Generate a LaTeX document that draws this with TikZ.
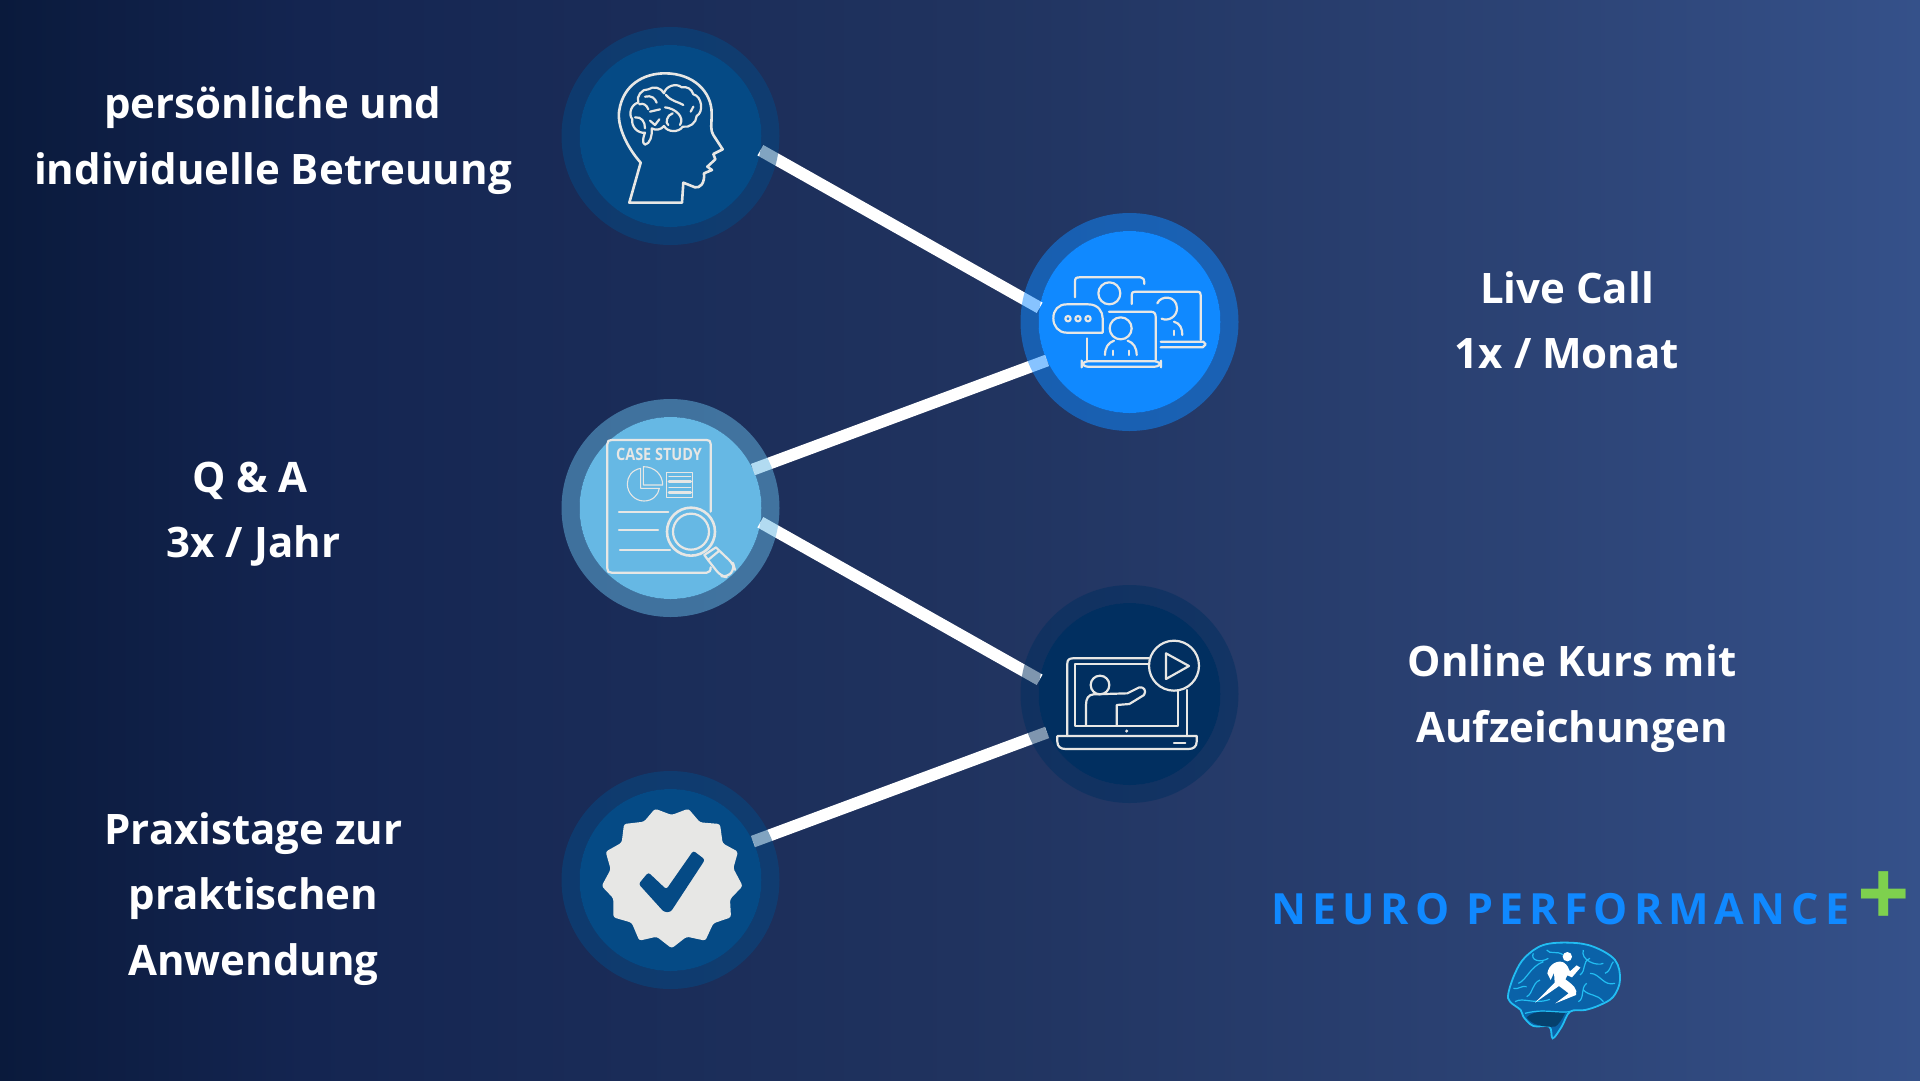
\documentclass[tikz,border=0pt]{standalone}
\usepackage{fontspec}
\setmainfont{Open Sans}
\newfontfamily\logofont[LetterSpace=14]{Open Sans}
\definecolor{bgA}{HTML}{0A1A3C}
\definecolor{bgB}{HTML}{142551}
\definecolor{bgC}{HTML}{20335F}
\definecolor{bgD}{HTML}{2C4375}
\definecolor{bgE}{HTML}{35518A}
\definecolor{brainblue}{HTML}{054A85}
\definecolor{liveblue}{HTML}{1089FF}
\definecolor{caseblue}{HTML}{66B8E4}
\definecolor{videoblue}{HTML}{012F60}
\definecolor{iconline}{HTML}{E7E7E5}
\definecolor{plusgreen}{HTML}{7ED14E}
\definecolor{veincyan}{HTML}{22BDF2}
\definecolor{lobeblue}{HTML}{0A62A8}
\pgfdeclarehorizontalshading{bgfade}{100bp}{color(0bp)=(bgA); color(25bp)=(bgA); color(33bp)=(bgB); color(50bp)=(bgC); color(65bp)=(bgD); color(75bp)=(bgE); color(100bp)=(bgE)}
\tikzset{
  hub/.style={circle,inner sep=0pt,outer sep=0pt,minimum size=182,fill=#1},
  link/.style={draw=white,line width=12},
  lbl/.style={align=center,text=white,font=\fontsize{42}{65.5}\selectfont\bfseries},
  icon/.style={draw=iconline,line width=2.2,line cap=round,line join=round},
  thinicon/.style={draw=iconline,line width=1.1,line cap=round,line join=round},
}
\begin{document}
\begin{tikzpicture}[x=1pt,y=-1pt]
\useasboundingbox (0,0) rectangle (1920,1080);
\shade[shading=bgfade] (0,0) rectangle (1920,1080);
\node[hub=brainblue] (brainhub) at (670.5,136) {};
\node[hub=liveblue] (livehub) at (1129.5,322) {};
\node[hub=caseblue] (casehub) at (670.5,508) {};
\node[hub=videoblue] (videohub) at (1129.5,694) {};
\node[hub=brainblue] (badgehub) at (670.5,880) {};
\draw[link] (brainhub.-9) -- (livehub.171);
\draw[link] (casehub.25) -- (livehub.205);
\draw[link] (casehub.-9) -- (videohub.171);
\draw[link] (badgehub.25) -- (videohub.205);
\foreach \hubname/\hubcolor in {brainhub/brainblue,livehub/liveblue,casehub/caseblue,videohub/videoblue,badgehub/brainblue}
  \draw[\hubcolor,opacity=.5,line width=18] (\hubname) circle (100);
\node[lbl] (brainlabel) at (273,140.5) {persönliche und\\individuelle Betreuung};
\node[lbl] (caselabel) at (253.5,514) {Q \& A\hspace*{7pt}\\3x / Jahr};
\node[lbl] (badgelabel) at (253.5,899) {Praxistage zur\\praktischen\\Anwendung};
\node[lbl] (livelabel) at (1567,320) {Live Call\\1x / Monat};
\node[lbl] (videolabel) at (1572,698.5) {Online Kurs mit\\Aufzeichungen};
\node[text=liveblue,anchor=base west,inner sep=0pt,font=\logofont\fontsize{43}{43}\selectfont\bfseries] (logotext) at (1271,924) {NEURO PERFORMANCE};
\node[text=plusgreen,inner sep=0pt,font=\fontsize{92}{92}\selectfont\bfseries] (logoplus) at (1884,899) {+};
% head with brain
\begin{scope}[shift={(600,60)},scale=1/3]
\draw[icon,line width=2.6] (88,428) -- (122,308) .. controls (75,255) and (50,190) .. (58,150) .. controls (70,75) and (130,40) .. (195,40) .. controls (280,40) and (335,95) .. (335,160) .. controls (335,200) and (330,205) .. (340,225) -- (368,268) -- (340,282) -- (346,298) -- (322,320) -- (336,330) -- (312,340) .. controls (315,370) and (300,385) .. (285,382) -- (250,368) -- (246,428) -- cycle;
\draw[icon] (155,205) .. controls (158,225) and (150,252) .. (135,254) .. controls (125,250) and (130,230) .. (135,218) to[bend left=55] (97,178) to[bend left=60] (115,128) to[bend left=60] (145,88) to[bend left=50] (192,100) to[bend left=60] (245,82) to[bend left=45] (280,103) to[bend left=70] (290,168) to[bend left=50] (248,200) to[bend left=60] (192,198) to[bend left=40] cycle;
\draw[icon] (135,110) .. controls (155,105) and (165,115) .. (170,128);
\draw[icon] (118,133) .. controls (130,128) and (140,135) .. (145,148);
\draw[icon] (150,155) -- (180,148);
\draw[icon] (105,172) .. controls (125,170) and (135,185) .. (135,205);
\draw[icon] (150,182) -- (165,195) -- (178,178);
\draw[icon] (198,105) .. controls (215,125) and (235,125) .. (250,135);
\draw[icon] (195,142) .. controls (225,145) and (255,170) .. (240,195);
\draw[icon] (218,160) .. controls (200,165) and (195,190) .. (205,195);
\draw[icon] (280,140) .. controls (275,150) and (275,150) .. (272,155);
\end{scope}
% three people on screens
\begin{scope}[shift={(1030,260)},scale=1/3]
\draw[icon] (135,112) -- (135,65) .. controls (135,55) and (138,52) .. (148,52) -- (332,52) .. controls (340,52) and (343,58) .. (343,72);
\draw[icon] (238,100) circle (33);
\draw[icon] (305,132) -- (305,105) .. controls (305,98) and (308,95) .. (315,95) -- (502,95) .. controls (510,95) and (512,98) .. (512,105) -- (512,240);
\draw[icon] (382,130) .. controls (392,105) and (440,105) .. (441,145) .. controls (441,170) and (415,185) .. (395,176);
\draw[icon] (432,185) .. controls (450,190) and (457,205) .. (457,225);
\draw[icon] (432,212) -- (432,225);
\draw[icon] (392,245) -- (520,245) -- (527,253) -- (518,262) -- (392,262);
\draw[icon] (218,218) -- (110,218) .. controls (85,218) and (70,198) .. (70,175) .. controls (70,150) and (85,133) .. (110,133) -- (175,133) .. controls (205,133) and (218,155) .. (218,175) -- cycle;
\draw[icon] (114,176) circle (8);
\draw[icon] (144,176) circle (8);
\draw[icon] (174,176) circle (8);
\draw[icon] (237,155) -- (362,155) .. controls (372,155) and (377,160) .. (377,170) -- (377,300);
\draw[icon] (170,235) -- (170,300);
\draw[icon] (272,205) circle (33);
\draw[icon] (225,285) .. controls (225,262) and (235,248) .. (252,242);
\draw[icon] (320,285) .. controls (320,262) and (310,248) .. (293,242);
\draw[icon] (250,272) -- (250,285);
\draw[icon] (297,272) -- (297,285);
\draw[icon,rounded corners=6] (155,304) -- (393,304) -- (393,320) -- (155,320) -- cycle;
\end{scope}
% case study sheet
\begin{scope}[shift={(590,420)},scale=1/3]
\draw[icon] (362,275) -- (362,72) .. controls (362,63) and (358,60) .. (350,60) -- (65,60) .. controls (56,60) and (52,63) .. (52,72) -- (52,446) .. controls (52,455) and (56,458) .. (65,458) -- (350,458) .. controls (358,458) and (362,452) .. (362,442);
\node[text=iconline,font=\fontsize{17}{17}\selectfont\bfseries,inner sep=0pt,xscale=.85] (casetitle) at (207,103) {CASE STUDY};
\draw[thinicon] (152,145) .. controls (125,150) and (112,170) .. (112,192) .. controls (112,220) and (135,243) .. (162,243) .. controls (188,243) and (205,225) .. (208,205) -- (152,205) -- cycle;
\draw[thinicon] (160,140) .. controls (195,140) and (218,165) .. (218,195) -- (160,195) -- cycle;
\draw[thinicon] (230,157) rectangle (308,232);
\draw[icon,line width=1.2] (237,170) -- (302,170);
\draw[icon,line width=2.6] (237,185) -- (302,185);
\draw[icon,line width=1.2] (237,202) -- (302,202);
\draw[icon,line width=2.6] (237,217) -- (302,217);
\draw[icon] (87,275) -- (235,275);
\draw[icon] (87,329) -- (204,329);
\draw[icon] (90,390) -- (240,390);
\draw[icon,line width=2.6] (303,335) circle (72);
\draw[icon] (303,335) circle (54);
\draw[icon] (343,405) -- (378,382) -- (388,392) -- (354,420) -- cycle;
\draw[icon,rounded corners=6] (354,420) -- (392,468) -- (412,472) -- (434,446) -- (430,432) -- (388,392);
\end{scope}
% lecture on laptop
\begin{scope}[shift={(1040,630)},scale=1/3]
\draw[icon] (82,318) -- (82,100) .. controls (82,90) and (88,85) .. (98,85) -- (328,85);
\draw[icon] (440,180) -- (440,318);
\draw[icon] (328,103) -- (105,103) -- (105,287) -- (415,287) -- (415,182);
\draw[icon] (402,107) circle (75);
\draw[icon] (378,70) -- (447,108) -- (378,147) -- cycle;
\draw[icon] (180,165) circle (28);
\draw[icon] (138,285) -- (138,225) .. controls (138,205) and (145,195) .. (160,193) -- (262,190) -- (298,172) .. controls (312,170) and (320,182) .. (312,195) -- (268,222) -- (230,225) -- (230,285);
\fill[iconline] (260,303) circle (5);
\draw[icon] (52,318) -- (470,318) -- (470,335) .. controls (470,350) and (460,357) .. (445,357) -- (77,357) .. controls (62,357) and (52,350) .. (52,335) -- cycle;
\draw[icon] (402,338) -- (436,338);
\end{scope}
% seal with tick
\begin{scope}[shift={(550,760)},scale=1/3]
\fill[iconline,rounded corners=2.5] (315,146) -- (365,165) -- (415,146) -- (450,187) -- (510,192) -- (518,250) -- (564,275) -- (550,325) -- (578,378) -- (540,418) -- (543,472) -- (490,490) -- (466,542) -- (410,530) -- (365,565) -- (320,530) -- (268,542) -- (245,488) -- (190,472) -- (190,415) -- (155,378) -- (182,328) -- (167,275) -- (215,248) -- (222,192) -- (282,185) -- cycle;
\fill[brainblue,rounded corners=2.5] (295,337) -- (349,388) -- (430,272) -- (465,299) -- (362,456) -- (342,456) -- (266,372) -- cycle;
\end{scope}
% logo brain
\begin{scope}[shift={(1490,930)},scale=1/3]
\fill[fill=lobeblue,draw=veincyan,line width=1.8] plot[smooth cycle,tension=.6] coordinates {(55,190) (75,130) (105,82) (160,45) (240,38) (310,50) (375,90) (390,150) (370,200) (330,225) (285,240) (240,245) (215,290) (188,325) (178,290) (130,288) (100,260) (92,240) (60,215)};
\fill[black!35!lobeblue] (110,262) .. controls (130,240) and (190,240) .. (225,250) .. controls (215,270) and (205,285) .. (195,290) .. controls (160,292) and (125,285) .. (110,262);
\draw[veincyan,line width=1.2] (85,160) .. controls (110,150) and (120,110) .. (160,95) (110,200) .. controls (130,190) and (125,160) .. (150,150) (105,250) .. controls (160,235) and (200,250) .. (240,245) (280,60) .. controls (270,90) and (320,110) .. (340,100) (300,130) .. controls (330,130) and (340,170) .. (375,160) (280,180) .. controls (300,200) and (320,190) .. (340,215) (170,60) .. controls (180,75) and (200,60) .. (220,75) (75,215) .. controls (100,200) and (130,225) .. (180,208) (130,70) .. controls (120,90) and (150,100) .. (175,85) (270,135) .. controls (290,120) and (275,95) .. (300,85) (345,130) .. controls (365,120) and (360,105) .. (370,95) (265,215) .. controls (285,205) and (270,175) .. (290,160) (70,175) .. controls (85,180) and (95,165) .. (110,170);
\fill[white] (232,80) circle (14);
\fill[white] (172,130) .. controls (176,102) and (205,88) .. (222,98) .. controls (232,105) and (236,115) .. (240,124) -- (260,106) -- (271,113) -- (246,142) -- (232,136) -- (226,148) .. controls (250,165) and (264,178) .. (258,195) -- (196,220) -- (236,190) -- (207,168) -- (135,218) -- (194,158) -- (192,128) -- (182,150) -- cycle;
\end{scope}
\end{tikzpicture}
\end{document}
